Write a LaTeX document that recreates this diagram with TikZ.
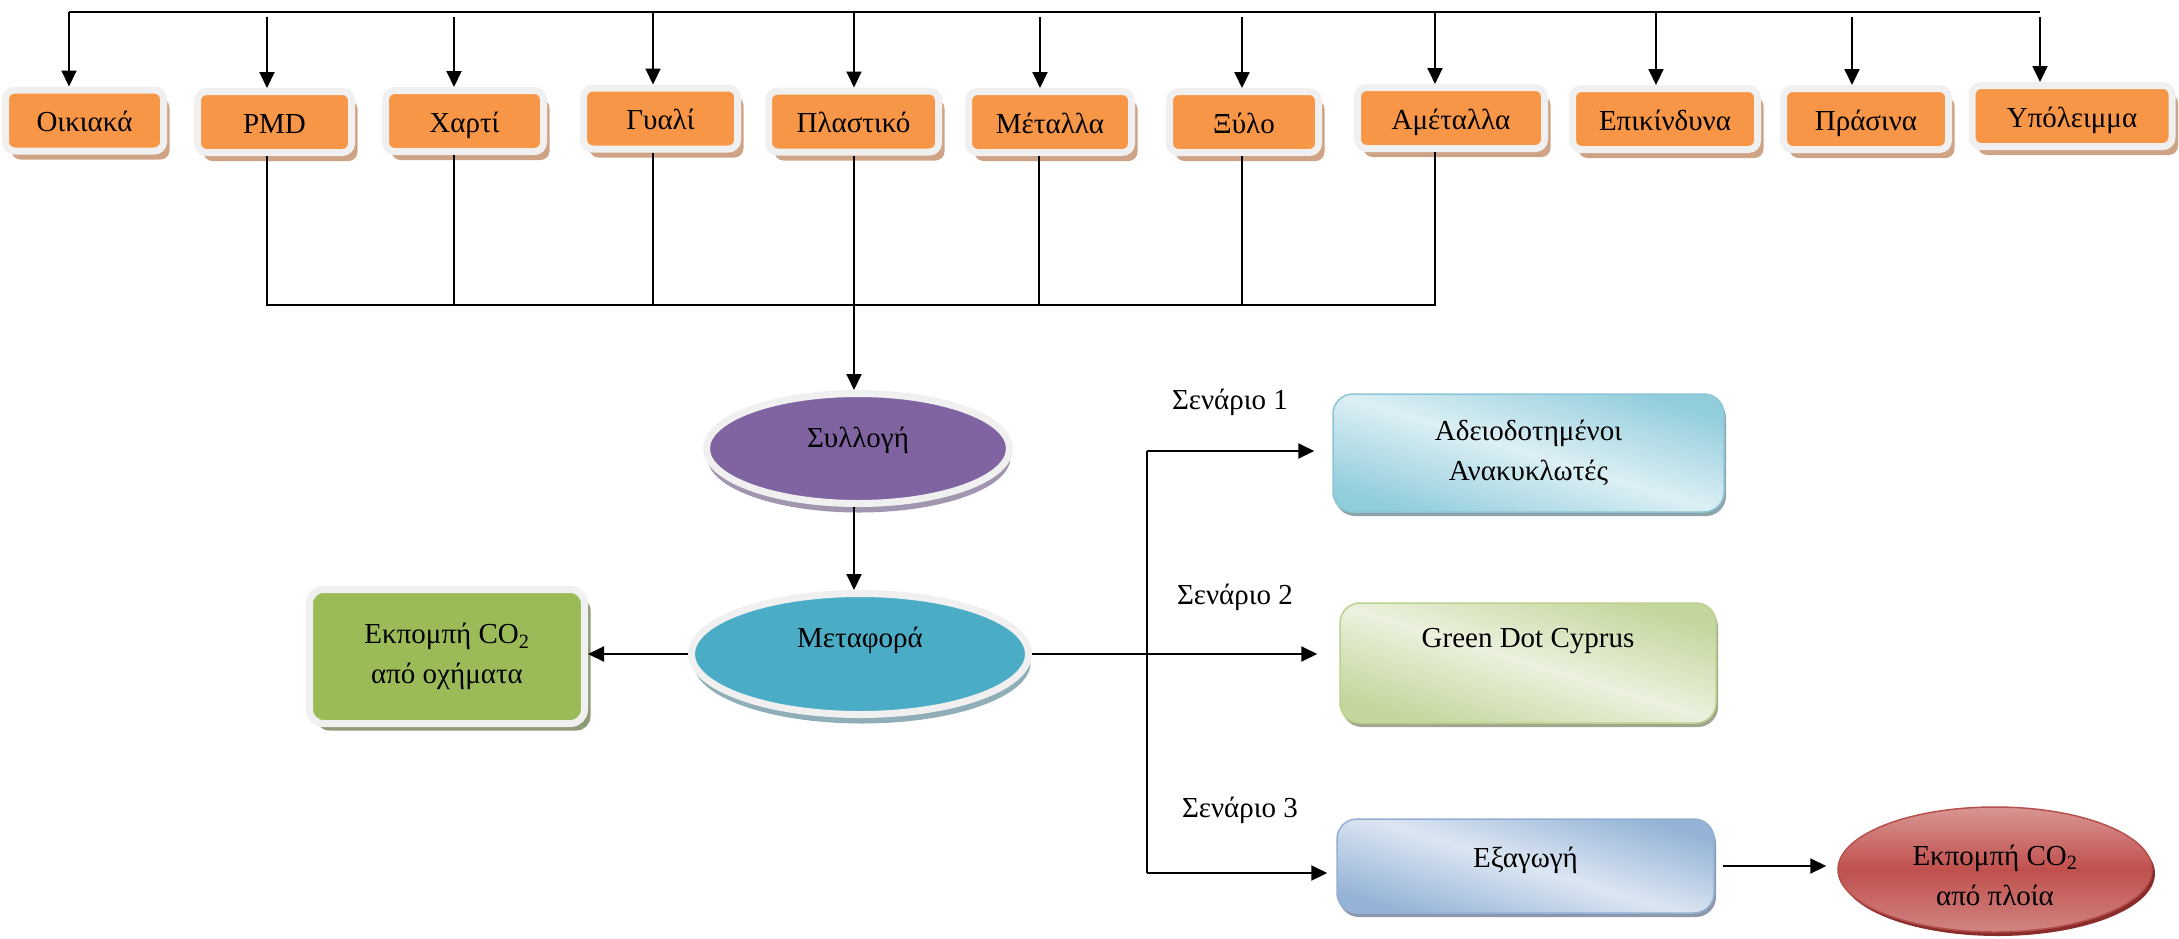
\documentclass[tikz,border=0pt]{standalone}
\usepackage{fontspec}
\setmainfont{Liberation Serif}
\usetikzlibrary{shapes.geometric,arrows.meta,shadows}
\definecolor{orng}{HTML}{F79646}
\definecolor{ring}{HTML}{F0F0F0}
\definecolor{tansh}{HTML}{CFA486}
\definecolor{purp}{HTML}{8064A2}
\definecolor{purpsh}{HTML}{A195B0}
\definecolor{metacol}{HTML}{4BACC6}
\definecolor{metash}{HTML}{8FAEB8}
\definecolor{vgreen}{HTML}{9BBB59}
\definecolor{vgreensh}{HTML}{8E9A78}
\definecolor{aqdark}{HTML}{92CDDC}
\definecolor{aqlight}{HTML}{DCEFF4}
\definecolor{aqbord}{HTML}{8CC5D4}
\definecolor{aqsh}{HTML}{8FA3AB}
\definecolor{gddark}{HTML}{C3D69B}
\definecolor{gdlight}{HTML}{EBF1DE}
\definecolor{gdbord}{HTML}{BCD08F}
\definecolor{gdsh}{HTML}{A0A78E}
\definecolor{bldark}{HTML}{95B3D7}
\definecolor{bllight}{HTML}{DCE6F2}
\definecolor{blbord}{HTML}{92AFD4}
\definecolor{blsh}{HTML}{8D99AA}
\definecolor{rdtop}{HTML}{D99694}
\definecolor{rdmid}{HTML}{C0504D}
\definecolor{rdbot}{HTML}{D08482}
\definecolor{rdbord}{HTML}{B5504D}
\definecolor{rdsh}{HTML}{8A2D2B}
\begin{document}
\begin{tikzpicture}[x=1pt,y=-1pt,
  font=\fontsize{29}{40}\selectfont,
  ln/.style={line width=2pt},
  arr/.style={line width=2pt,-{Triangle[length=16pt,width=15pt]}},
  catbox/.style={rectangle,rounded corners=9pt,fill=orng,draw=ring,line width=7pt,
    inner sep=0pt,minimum height=61pt,text height=28pt,text depth=6pt,
    drop shadow={shadow xshift=6pt,shadow yshift=-8.5pt,fill=tansh,opacity=1}},
  ringell/.style={ellipse,draw=ring,line width=7pt,inner sep=0pt},
  scenbox/.style={rectangle,rounded corners=20pt,line width=1.5pt,inner sep=0pt,align=center},
  grad/.style args={#1/#2}{left color=#1,right color=#1,middle color=#2,shading angle=-17}
]
\useasboundingbox (0,0) rectangle (2179,938);

% category boxes
\node[catbox,minimum width=158pt] (c1) at (84.5,120.5) {Οικιακά};
\node[catbox,minimum width=154pt] (c2) at (274.5,122) {PMD};
\node[catbox,minimum width=158pt] (c3) at (464.5,121) {Χαρτί};
\node[catbox,minimum width=154pt] (c4) at (660.5,118.5) {Γυαλί};
\node[catbox,minimum width=170pt] (c5) at (853.5,121.5) {Πλαστικό};
\node[catbox,minimum width=163pt] (c6) at (1050,122) {Μέταλλα};
\node[catbox,minimum width=149pt] (c7) at (1244,122) {Ξύλο};
\node[catbox,minimum width=187pt] (c8) at (1451,118) {Αμέταλλα};
\node[catbox,minimum width=185pt] (c9) at (1665,119) {Επικίνδυνα};
\node[catbox,minimum width=165pt] (c10) at (1866,119) {Πράσινα};
\node[catbox,minimum width=200pt] (c11) at (2072,116) {Υπόλειμμα};

% top distribution line
\foreach \i/\x/\y in {1/69/12,2/267/17,3/454/17,4/653/12,5/854/12,6/1040/17,7/1242/17,8/1435/12,9/1656/12,10/1852/17,11/2040/17}{
  \coordinate (t\i) at (\x,\y);
  \draw[arr] (t\i) -- (c\i.north -| t\i);
}
\coordinate (tl) at (69,12);
\coordinate (tr) at (2040,12);
\draw[ln] (tl) -- (tr);

% collection bus
\foreach \i/\x in {2/267,3/454,4/653,5/854,6/1039,7/1242,8/1435}{
  \coordinate (b\i) at (\x,305);
}
\foreach \i in {3,4,5,6,7}{
  \draw[ln] (c\i.south -| b\i) -- (b\i);
}
\draw[ln] (c2.south -| b2) -- (b2) -- (b8) -- (c8.south -| b8);

% ellipses
\node[ringell,fill=purp,minimum width=303pt,minimum height=110pt,text height=20pt,text depth=23pt,
  drop shadow={shadow xshift=1pt,shadow yshift=-9pt,fill=purpsh,opacity=1}] (syl) at (858,448.5) {Συλλογή};
\node[ringell,fill=metacol,minimum width=337pt,minimum height=121pt,text height=20pt,text depth=34pt,
  drop shadow={shadow xshift=2pt,shadow yshift=-9pt,fill=metash,opacity=1}] (meta) at (860,654) {Μεταφορά};

\draw[arr] (b5) -- (b5 |- syl.north);
\draw[arr] (syl.south -| b5) -- (meta.north -| b5);

% vehicle emissions
\node[rectangle,rounded corners=14pt,fill=vgreen,draw=ring,line width=7pt,inner sep=0pt,
  minimum width=275pt,minimum height=134pt,align=center,
  drop shadow={shadow xshift=6pt,shadow yshift=-7pt,fill=vgreensh,opacity=1}] (veh) at (447,656.5)
  {Εκπομπή CO\textsubscript{2}\\από οχήματα};
\draw[arr] (meta.west) -- (meta.west -| veh.east);

% scenario boxes
\node[scenbox,draw=aqbord,grad=aqdark/aqlight,
  minimum width=391pt,minimum height=118pt,
  drop shadow={shadow xshift=2pt,shadow yshift=-4pt,fill=aqsh,opacity=1}] (lic) at (1528.5,453)
  {Αδειοδοτημένοι\\Ανακυκλωτές};
\node[scenbox,draw=gdbord,grad=gddark/gdlight,
  minimum width=376pt,minimum height=120pt,text height=20pt,text depth=52pt,
  drop shadow={shadow xshift=2pt,shadow yshift=-4pt,fill=gdsh,opacity=1}] (gd) at (1528,663)
  {Green Dot Cyprus};
\node[scenbox,draw=blbord,grad=bldark/bllight,
  minimum width=377pt,minimum height=94pt,text height=20pt,text depth=18pt,
  drop shadow={shadow xshift=2pt,shadow yshift=-4pt,fill=blsh,opacity=1}] (exp) at (1525.5,866)
  {Εξαγωγή};

% ship emissions
\node[ellipse,draw=rdbord,line width=1.5pt,top color=rdtop,bottom color=rdbot,middle color=rdmid,
  inner sep=0pt,minimum width=314pt,minimum height=125pt,align=center,text height=77pt,text depth=6pt,
  drop shadow={shadow xshift=3pt,shadow yshift=-4pt,fill=rdsh,opacity=1}] (ship) at (1995,869.5)
  {Εκπομπή CO\textsubscript{2}\\από πλοία};

% scenario labels
\node (s1) at (1230,402) {Σενάριο 1};
\node (s2) at (1235,597) {Σενάριο 2};
\node (s3) at (1240,810) {Σενάριο 3};

% scenario bracket
\coordinate (br1) at (1147,451);
\coordinate (br2) at (meta.east -| br1);
\coordinate (br3) at (1147,873);
\draw[ln] (br1) -- (br3);
\draw[arr,shorten >=18pt] (br1) -- (br1 -| lic.west);
\draw[arr,shorten >=22pt] (meta.east) -- (br2 -| gd.west);
\draw[arr,shorten >=9pt] (br3) -- (br3 -| exp.west);
\draw[arr,shorten <=8pt,shorten >=11pt] (exp.east) -- (exp.east -| ship.west);
\end{tikzpicture}
\end{document}
